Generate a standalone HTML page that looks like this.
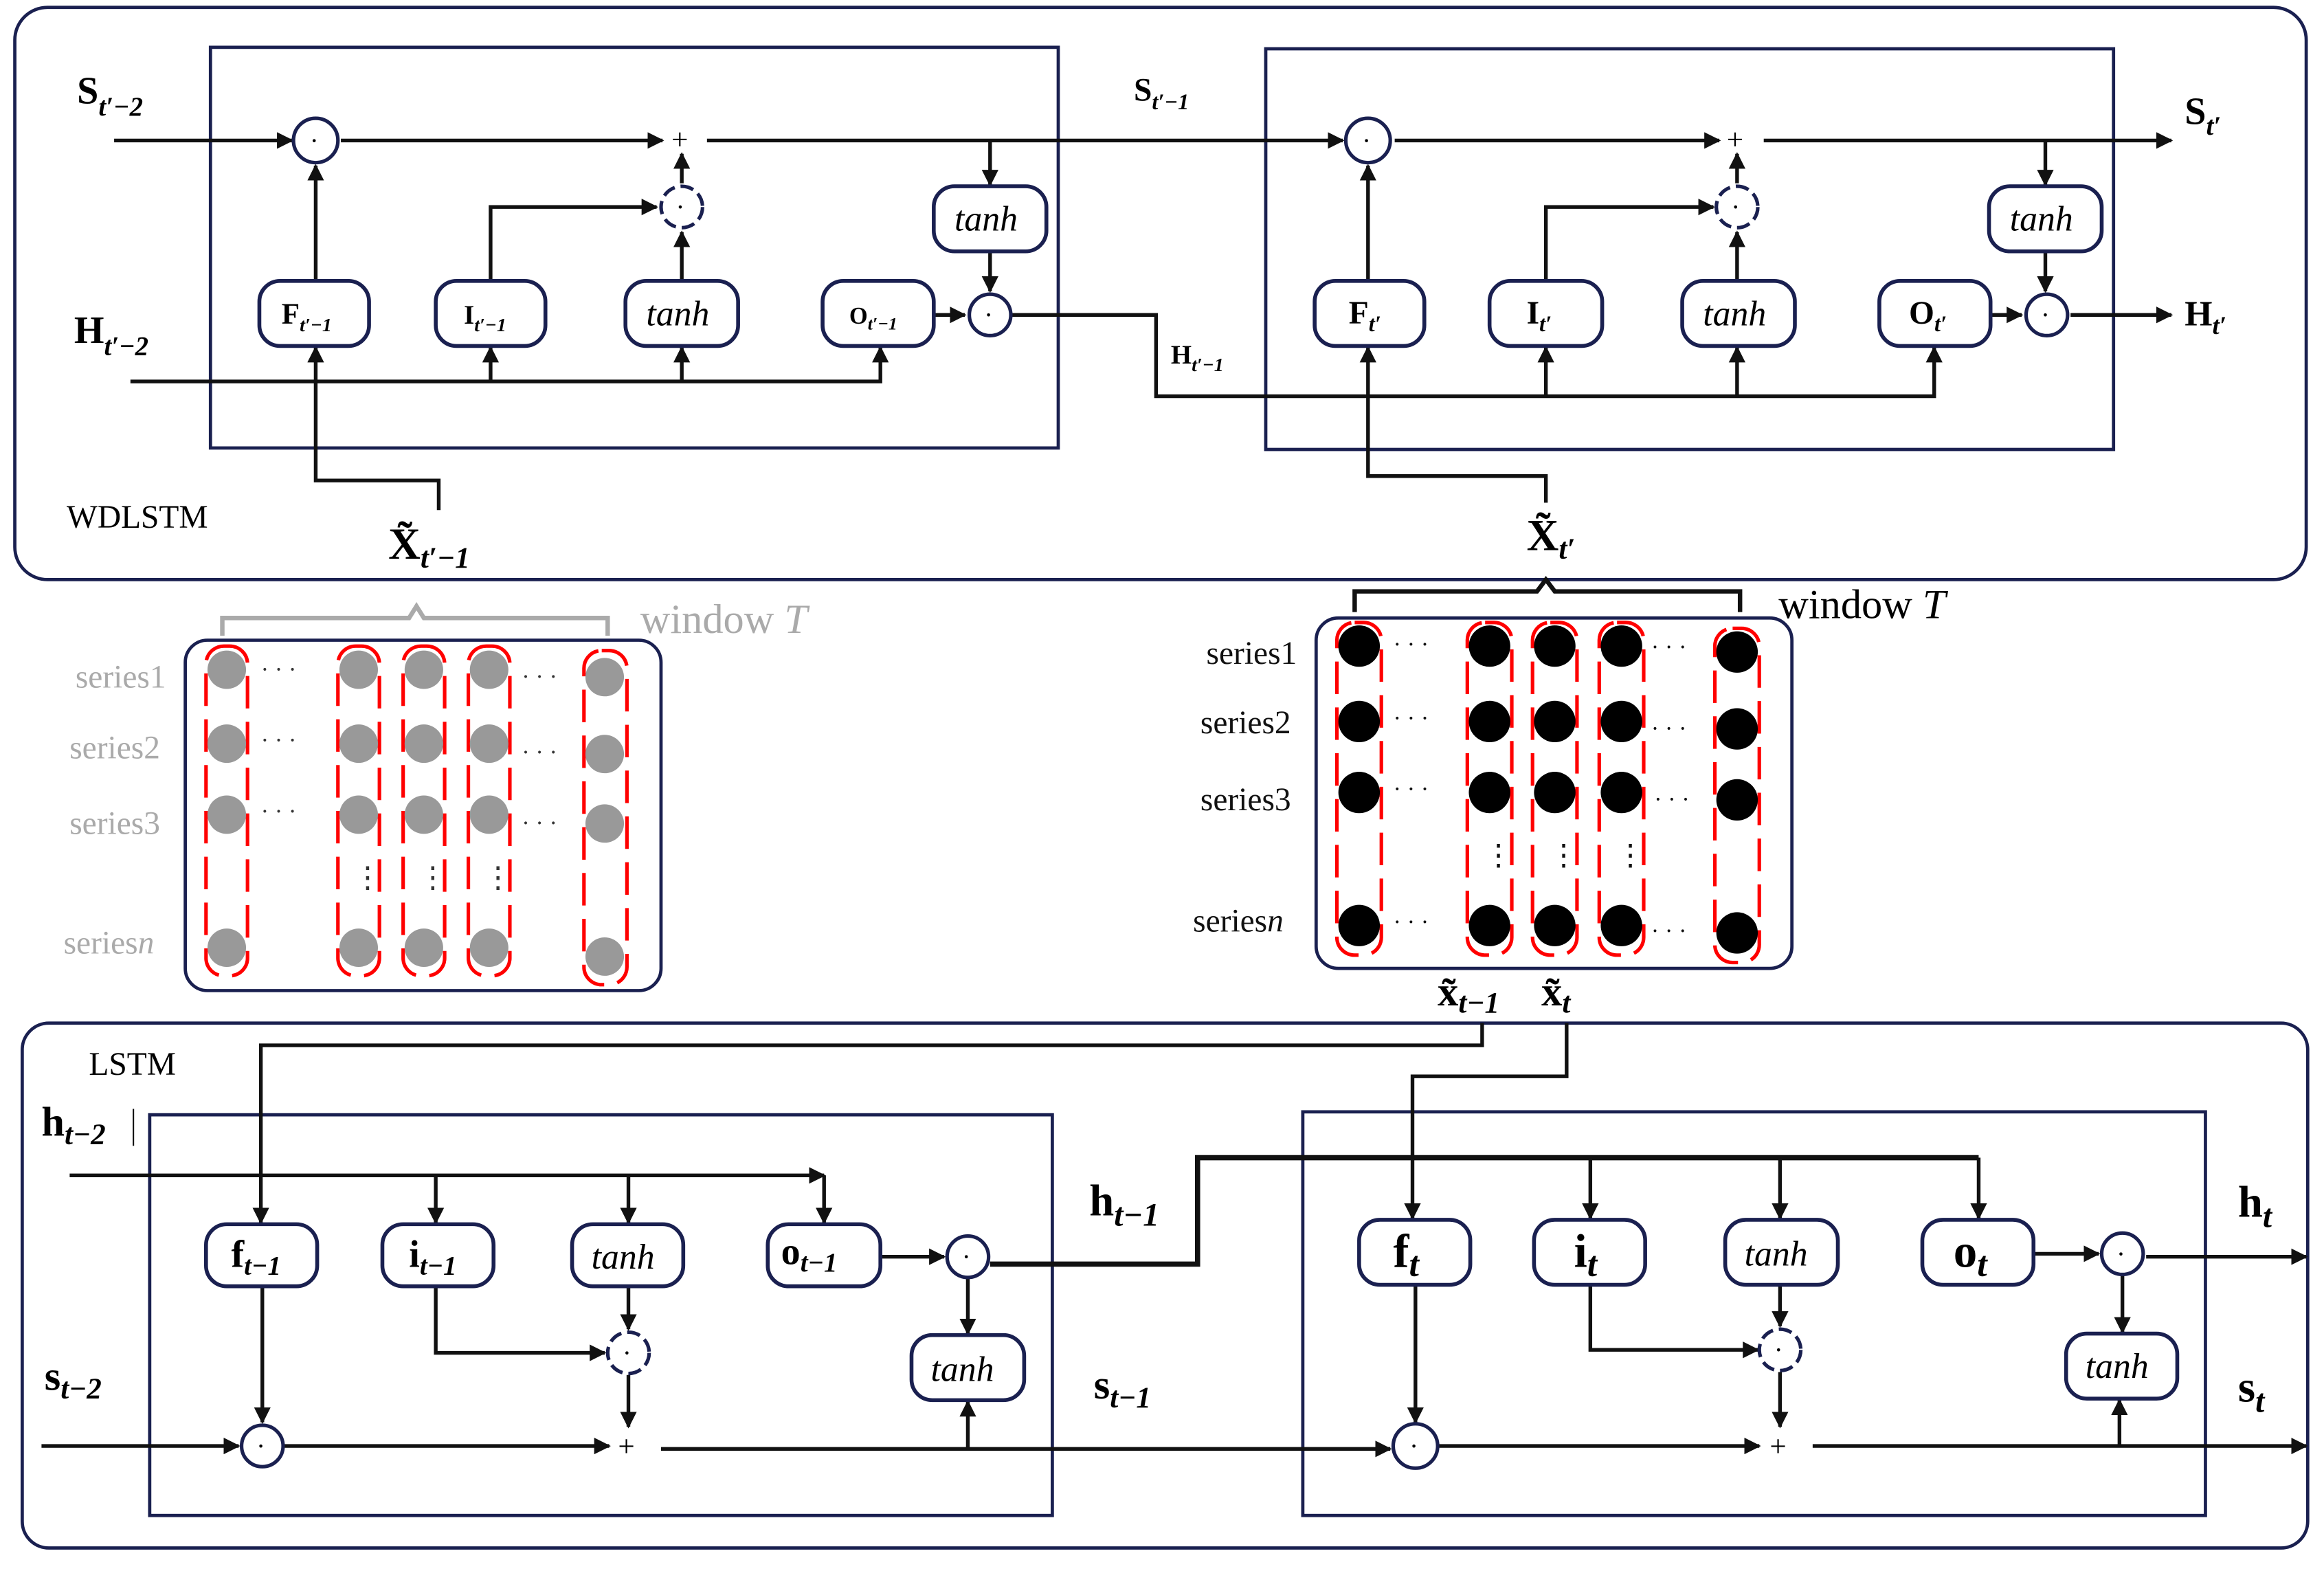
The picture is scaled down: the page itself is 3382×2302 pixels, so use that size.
<!DOCTYPE html>
<html><head><meta charset="utf-8"><style>
html,body{margin:0;padding:0;background:#fff;}
svg{display:block;}
text{font-family:"Liberation Serif",serif;}
.b{font-weight:bold;}
.nv{fill:none;stroke:#1a2050;stroke-width:2.2;}
.box{fill:#fff;stroke:#1a2050;stroke-width:2.6;}
.ln{fill:none;stroke:#111;stroke-width:2.5;}
.tk{fill:none;stroke:#111;stroke-width:3.5;}
.cir{fill:#fff;stroke:#1a2050;stroke-width:2.4;}
.dc{fill:#fff;stroke:#1a2050;stroke-width:2.4;stroke-dasharray:9 4;}
.rd{fill:none;stroke:#f00;stroke-width:2.4;stroke-dasharray:22 9;}
</style></head><body>
<svg width="3382" height="2302" viewBox="0 0 1568 1070" preserveAspectRatio="none" xmlns="http://www.w3.org/2000/svg">
<defs>
<marker id="a" viewBox="0 0 10 10" refX="9" refY="5" markerWidth="4.5" markerHeight="4.5" orient="auto"><path d="M0,0L10,5L0,10z" fill="#111"/></marker>
</defs>
<rect width="1568" height="1070" fill="#fff"/>
<rect class="nv" x="10" y="5" width="1546" height="387" rx="22"/>
<rect class="nv" x="15" y="692" width="1542" height="355" rx="18"/>
<rect class="nv" x="142" y="32" width="572" height="271"/>
<rect class="nv" x="854" y="33" width="572" height="271"/>
<rect class="nv" x="101" y="754" width="609" height="271"/>
<rect class="nv" x="879" y="752" width="609" height="273"/>

<g class="ln" marker-end="url(#a)">
<line x1="77" y1="95" x2="197" y2="95"/>
<line x1="230" y1="95" x2="447" y2="95"/>
<line x1="477" y1="95" x2="906" y2="95"/>
<line x1="941" y1="95" x2="1160" y2="95"/>
<line x1="1190" y1="95" x2="1465" y2="95"/>
<polyline points="668,95 668,125"/>
<polyline points="668,170 668,197"/>
<line x1="213" y1="190" x2="213" y2="112"/>
<polyline points="331,190 331,140 443,140"/>
<line x1="460" y1="190" x2="460" y2="157"/>
<line x1="460" y1="124" x2="460" y2="104"/>
<line x1="630" y1="213" x2="651" y2="213"/>
<line x1="331" y1="258" x2="331" y2="235"/>
<line x1="460" y1="258" x2="460" y2="235"/>
<polyline points="88,258 594,258 594,235"/>
<polyline points="296,345 296,325 213,325 213,235"/>
<polyline points="1380,95 1380,125"/>
<polyline points="1380,170 1380,197"/>
<line x1="923" y1="190" x2="923" y2="112"/>
<polyline points="1043,190 1043,140 1156,140"/>
<line x1="1172" y1="190" x2="1172" y2="157"/>
<line x1="1172" y1="124" x2="1172" y2="104"/>
<line x1="1343" y1="213" x2="1364" y2="213"/>
<line x1="1397" y1="213" x2="1465" y2="213"/>
<polyline points="683,213 780,213 780,268 1305,268 1305,235"/>
<line x1="1043" y1="268" x2="1043" y2="235"/>
<line x1="1172" y1="268" x2="1172" y2="235"/>
<polyline points="1043,340 1043,322 923,322 923,235"/>
</g>
<text x="453" y="101" font-size="20">+</text>
<text x="1165" y="101" font-size="20">+</text>
<circle class="cir" cx="213" cy="95" r="15"/><text x="209" y="101" font-size="18">·</text>
<circle class="cir" cx="923" cy="95" r="15"/><text x="919" y="101" font-size="18">·</text>
<circle class="dc" cx="460" cy="140" r="14"/><text x="456" y="146" font-size="18">·</text>
<circle class="dc" cx="1172" cy="140" r="14"/><text x="1168" y="146" font-size="18">·</text>
<circle class="cir" cx="668" cy="213" r="14"/><text x="664" y="219" font-size="18">·</text>
<circle class="cir" cx="1381" cy="213" r="14"/><text x="1377" y="219" font-size="18">·</text>
<g>
<rect class="box" x="175" y="190" width="74" height="44" rx="14"/>
<rect class="box" x="294" y="190" width="74" height="44" rx="14"/>
<rect class="box" x="422" y="190" width="76" height="44" rx="14"/>
<rect class="box" x="555" y="190" width="75" height="44" rx="14"/>
<rect class="box" x="630" y="126" width="76" height="44" rx="14"/>
<rect class="box" x="887" y="190" width="74" height="44" rx="14"/>
<rect class="box" x="1005" y="190" width="76" height="44" rx="14"/>
<rect class="box" x="1135" y="190" width="76" height="44" rx="14"/>
<rect class="box" x="1268" y="190" width="75" height="44" rx="14"/>
<rect class="box" x="1342" y="126" width="76" height="44" rx="14"/>
</g>
<text x="190" y="219" font-size="20" class="b">F<tspan font-size="13" font-style="italic" dy="5">t′−1</tspan></text>
<text x="313" y="219" font-size="18" class="b">I<tspan font-size="13" font-style="italic" dy="5">t′−1</tspan></text>
<text x="436" y="220" font-size="24" font-style="italic" font-family="Liberation Serif">tanh</text>
<text x="573" y="219" font-size="16" class="b">O<tspan font-size="12" font-style="italic" dy="4">t′−1</tspan></text>
<text x="644" y="156" font-size="24" font-style="italic">tanh</text>
<text x="910" y="219" font-size="22" class="b">F<tspan font-size="15" font-style="italic" dy="5">t′</tspan></text>
<text x="1030" y="219" font-size="22" class="b">I<tspan font-size="15" font-style="italic" dy="5">t′</tspan></text>
<text x="1149" y="220" font-size="24" font-style="italic">tanh</text>
<text x="1288" y="219" font-size="22" class="b">O<tspan font-size="15" font-style="italic" dy="5">t′</tspan></text>
<text x="1356" y="156" font-size="24" font-style="italic">tanh</text>
<text x="52" y="70" font-size="26" class="b">S<tspan font-size="18" font-style="italic" dy="8">t′−2</tspan></text>
<text x="50" y="232" font-size="26" class="b">H<tspan font-size="18" font-style="italic" dy="8">t′−2</tspan></text>
<text x="765" y="68" font-size="22" class="b">S<tspan font-size="15" font-style="italic" dy="6">t′−1</tspan></text>
<text x="790" y="246" font-size="18" class="b">H<tspan font-size="13" font-style="italic" dy="5">t′−1</tspan></text>
<text x="1474" y="84" font-size="26" class="b">S<tspan font-size="18" font-style="italic" dy="7">t′</tspan></text>
<text x="1474" y="220" font-size="24" class="b">H<tspan font-size="17" font-style="italic" dy="6">t′</tspan></text>
<text x="45" y="357" font-size="22">WDLSTM</text>
<text x="262" y="378" font-size="30" class="b">X̃<tspan font-size="20" font-style="italic" dy="6">t′−1</tspan></text>
<text x="1030" y="372" font-size="30" class="b">X̃<tspan font-size="20" font-style="italic" dy="6">t′</tspan></text>

<path d="M150,430 V418 H276 L281,410 L286,418 H410 V430" fill="none" stroke="#aaa" stroke-width="3"/>
<text x="432" y="428" font-size="28" fill="#aaa">window <tspan font-style="italic">T</tspan></text>
<rect class="nv" x="125" y="433" width="321" height="237" rx="15"/>
<g class="rd">
<rect x="139" y="437" width="28" height="223" rx="12"/>
<rect x="228" y="437" width="28" height="223" rx="12"/>
<rect x="272" y="437" width="28" height="223" rx="12"/>
<rect x="316" y="437" width="28" height="223" rx="12"/>
<rect x="394" y="440" width="29" height="226" rx="12"/>
</g>
<g fill="#999">
<circle cx="153" cy="453" r="13"/><circle cx="242" cy="453" r="13"/><circle cx="286" cy="453" r="13"/><circle cx="330" cy="453" r="13"/><circle cx="408" cy="458" r="13"/>
<circle cx="153" cy="503" r="13"/><circle cx="242" cy="503" r="13"/><circle cx="286" cy="503" r="13"/><circle cx="330" cy="503" r="13"/><circle cx="408" cy="510" r="13"/>
<circle cx="153" cy="551" r="13"/><circle cx="242" cy="551" r="13"/><circle cx="286" cy="551" r="13"/><circle cx="330" cy="551" r="13"/><circle cx="408" cy="557" r="13"/>
<circle cx="153" cy="641" r="13"/><circle cx="242" cy="641" r="13"/><circle cx="286" cy="641" r="13"/><circle cx="330" cy="641" r="13"/><circle cx="408" cy="647" r="13"/>
</g>
<g font-size="16" fill="#333">
<text x="176" y="458">· · ·</text><text x="176" y="506">· · ·</text><text x="176" y="554">· · ·</text>
<text x="352" y="463">· · ·</text><text x="352" y="514">· · ·</text><text x="352" y="562">· · ·</text>
<text x="238" y="600" font-size="20">⋮</text><text x="282" y="600" font-size="20">⋮</text><text x="326" y="600" font-size="20">⋮</text>
</g>
<g font-size="22" fill="#aaa" text-anchor="end">
<text x="112" y="465">series1</text><text x="108" y="513">series2</text><text x="108" y="564">series3</text><text x="104" y="645">series<tspan font-style="italic">n</tspan></text>
</g>

<path d="M914,414 V400 H1037 L1043,392 L1049,400 H1174 V414" fill="none" stroke="#111" stroke-width="3"/>
<text x="1200" y="418" font-size="28">window <tspan font-style="italic">T</tspan></text>
<rect class="nv" x="888" y="418" width="321" height="237" rx="15"/>
<g class="rd">
<rect x="902" y="421" width="30" height="225" rx="12"/>
<rect x="990" y="421" width="30" height="225" rx="12"/>
<rect x="1034" y="421" width="30" height="225" rx="12"/>
<rect x="1079" y="421" width="30" height="225" rx="12"/>
<rect x="1157" y="425" width="30" height="226" rx="12"/>
</g>
<g fill="#000">
<circle cx="917" cy="437" r="14"/><circle cx="1005" cy="437" r="14"/><circle cx="1049" cy="437" r="14"/><circle cx="1094" cy="437" r="14"/><circle cx="1172" cy="441" r="14"/>
<circle cx="917" cy="488" r="14"/><circle cx="1005" cy="488" r="14"/><circle cx="1049" cy="488" r="14"/><circle cx="1094" cy="488" r="14"/><circle cx="1172" cy="493" r="14"/>
<circle cx="917" cy="536" r="14"/><circle cx="1005" cy="536" r="14"/><circle cx="1049" cy="536" r="14"/><circle cx="1094" cy="536" r="14"/><circle cx="1172" cy="541" r="14"/>
<circle cx="917" cy="626" r="14"/><circle cx="1005" cy="626" r="14"/><circle cx="1049" cy="626" r="14"/><circle cx="1094" cy="626" r="14"/><circle cx="1172" cy="631" r="14"/>
</g>
<g font-size="16" fill="#111">
<text x="940" y="441">· · ·</text><text x="940" y="491">· · ·</text><text x="940" y="539">· · ·</text><text x="940" y="629">· · ·</text>
<text x="1114" y="443">· · ·</text><text x="1114" y="498">· · ·</text><text x="1116" y="546">· · ·</text><text x="1114" y="635">· · ·</text>
<text x="1001" y="585" font-size="20">⋮</text><text x="1045" y="585" font-size="20">⋮</text><text x="1090" y="585" font-size="20">⋮</text>
</g>
<g font-size="22" fill="#111" text-anchor="end">
<text x="875" y="449">series1</text><text x="871" y="496">series2</text><text x="871" y="548">series3</text><text x="866" y="630">series<tspan font-style="italic">n</tspan></text>
</g>
<text x="970" y="680" font-size="28" class="b">x̃<tspan font-size="20" font-style="italic" dy="5">t−1</tspan></text>
<text x="1040" y="680" font-size="28" class="b">x̃<tspan font-size="20" font-style="italic" dy="5">t</tspan></text>

<text x="60" y="727" font-size="22">LSTM</text>
<text x="28" y="768" font-size="28" class="b">h<tspan font-size="20" font-style="italic" dy="6">t−2</tspan></text>
<line x1="90" y1="750" x2="90" y2="775" stroke="#111" stroke-width="1"/>
<text x="30" y="940" font-size="28" class="b">s<tspan font-size="20" font-style="italic" dy="6">t−2</tspan></text>
<text x="735" y="822" font-size="30" class="b">h<tspan font-size="22" font-style="italic" dy="7">t−1</tspan></text>
<text x="738" y="946" font-size="28" class="b">s<tspan font-size="20" font-style="italic" dy="6">t−1</tspan></text>
<text x="1510" y="823" font-size="30" class="b">h<tspan font-size="22" font-style="italic" dy="7">t</tspan></text>
<text x="1510" y="948" font-size="30" class="b">s<tspan font-size="22" font-style="italic" dy="7">t</tspan></text>
<polyline class="tk" points="668,855 808,855 808,783 1335,783"/>
<g class="ln" marker-end="url(#a)">
<polyline points="1000,692 1000,707 176,707 176,827"/>
<line x1="47" y1="795" x2="556" y2="795"/>
<line x1="294" y1="795" x2="294" y2="827"/>
<line x1="424" y1="795" x2="424" y2="827"/>
<line x1="556" y1="795" x2="556" y2="827"/>
<line x1="594" y1="850" x2="637" y2="850"/>
<line x1="653" y1="864" x2="653" y2="902"/>
<line x1="177" y1="870" x2="177" y2="962"/>
<line x1="28" y1="978" x2="161" y2="978"/>
<line x1="192" y1="978" x2="411" y2="978"/>
<polyline points="294,870 294,915 408,915"/>
<line x1="424" y1="870" x2="424" y2="899"/>
<line x1="424" y1="930" x2="424" y2="965"/>
<line x1="446" y1="980" x2="938" y2="980"/>
<line x1="653" y1="980" x2="653" y2="948"/>
<polyline points="1057,692 1057,728 953,728 953,824"/>
<line x1="1073" y1="783" x2="1073" y2="824"/>
<line x1="1201" y1="783" x2="1201" y2="824"/>
<line x1="1335" y1="783" x2="1335" y2="824"/>
<line x1="1372" y1="848" x2="1416" y2="848"/>
<line x1="1448" y1="850" x2="1556" y2="850"/>
<line x1="1432" y1="862" x2="1432" y2="901"/>
<line x1="955" y1="869" x2="955" y2="962"/>
<line x1="971" y1="978" x2="1187" y2="978"/>
<polyline points="1073,869 1073,913 1186,913"/>
<line x1="1201" y1="869" x2="1201" y2="897"/>
<line x1="1201" y1="928" x2="1201" y2="965"/>
<line x1="1223" y1="978" x2="1556" y2="978"/>
<line x1="1430" y1="978" x2="1430" y2="947"/>
</g>
<text x="417" y="985" font-size="20">+</text>
<text x="1194" y="985" font-size="20">+</text>
<circle class="cir" cx="177" cy="978" r="14"/><text x="173" y="984" font-size="18">·</text>
<circle class="cir" cx="955" cy="978" r="15"/><text x="951" y="984" font-size="18">·</text>
<circle class="dc" cx="424" cy="915" r="14"/><text x="420" y="921" font-size="18">·</text>
<circle class="dc" cx="1201" cy="913" r="14"/><text x="1197" y="919" font-size="18">·</text>
<circle class="cir" cx="653" cy="850" r="14"/><text x="649" y="856" font-size="18">·</text>
<circle class="cir" cx="1432" cy="848" r="14"/><text x="1428" y="854" font-size="18">·</text>
<rect class="box" x="139" y="828" width="75" height="42" rx="14"/>
<rect class="box" x="258" y="828" width="75" height="42" rx="14"/>
<rect class="box" x="386" y="828" width="75" height="42" rx="14"/>
<rect class="box" x="518" y="828" width="76" height="42" rx="14"/>
<rect class="box" x="615" y="903" width="76" height="44" rx="14"/>
<rect class="box" x="917" y="825" width="75" height="44" rx="14"/>
<rect class="box" x="1035" y="825" width="75" height="44" rx="14"/>
<rect class="box" x="1164" y="825" width="76" height="44" rx="14"/>
<rect class="box" x="1297" y="825" width="75" height="44" rx="14"/>
<rect class="box" x="1394" y="902" width="75" height="44" rx="14"/>
<text x="156" y="857" font-size="26" class="b">f<tspan font-size="18" font-style="italic" dy="5">t−1</tspan></text>
<text x="276" y="857" font-size="26" class="b">i<tspan font-size="18" font-style="italic" dy="5">t−1</tspan></text>
<text x="399" y="858" font-size="24" font-style="italic">tanh</text>
<text x="527" y="855" font-size="26" class="b">o<tspan font-size="18" font-style="italic" dy="5">t−1</tspan></text>
<text x="628" y="934" font-size="24" font-style="italic">tanh</text>
<text x="940" y="857" font-size="32" class="b">f<tspan font-size="24" font-style="italic" dy="6">t</tspan></text>
<text x="1062" y="857" font-size="32" class="b">i<tspan font-size="24" font-style="italic" dy="6">t</tspan></text>
<text x="1177" y="856" font-size="24" font-style="italic">tanh</text>
<text x="1318" y="857" font-size="32" class="b">o<tspan font-size="24" font-style="italic" dy="6">t</tspan></text>
<text x="1407" y="932" font-size="24" font-style="italic">tanh</text>
</svg>
</body></html>
